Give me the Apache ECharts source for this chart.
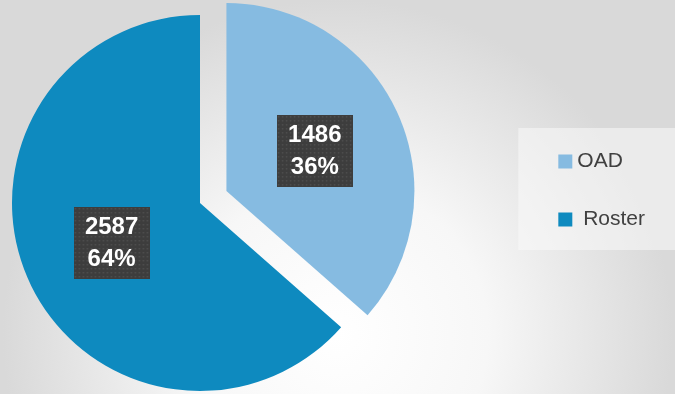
<!DOCTYPE html>
<html>
<head>
<meta charset="utf-8">
<script src="https://cdn.jsdelivr.net/npm/echarts@6/dist/echarts.min.js"></script>
<style>
  html, body { margin: 0; padding: 0; }
  #main { width: 675px; height: 394px; }
</style>
</head>
<body>
<div id="main"></div>
<script>
var names = ['OAD', 'Roster'];
var values = [1486, 2587];
var percents = ['36%', '64%'];
var colors = ['#86bbe1', '#0e8abf'];

// dotted dark tile for the label boxes
function dotted(w, h) {
    var c = document.createElement('canvas');
    c.width = w; c.height = h;
    var ctx = c.getContext('2d');
    ctx.fillStyle = '#3d3d3d';
    ctx.fillRect(0, 0, w, h);
    ctx.fillStyle = '#515151';
    for (var y = 1; y < h; y += 4) {
        for (var x = 1; x < w; x += 4) {
            ctx.fillRect(x, y, 1.5, 1.5);
        }
    }
    return c;
}
var tile = dotted(76, 72);

var data = names.map(function (n, i) {
    return {
        name: n,
        value: values[i],
        selected: i === 0,
        itemStyle: { color: colors[i] }
    };
});

var option = {
    backgroundColor: {
        type: 'radial', x: 0.5, y: 0.85, r: 0.85,
        colorStops: [
            { offset: 0, color: '#ffffff' },
            { offset: 0.45, color: '#f7f7f7' },
            { offset: 1, color: '#d9d9d9' }
        ]
    },
    animation: false,
    legend: {
        orient: 'vertical',
        right: 0,
        top: 128,
        padding: [23, 30, 20, 40],
        backgroundColor: 'rgba(250,250,250,0.55)',
        itemWidth: 14,
        itemHeight: 14,
        itemGap: 37,
        icon: 'rect',
        data: names,
        formatter: function (n) { return n === 'Roster' ? ' ' + n : n; },
        textStyle: {
            color: '#404040',
            fontSize: 21,
            fontFamily: 'Liberation Sans, Arial, sans-serif'
        }
    },
    series: [{
        type: 'pie',
        center: [200, 203],
        radius: [0, 188],
        startAngle: 90,
        selectedMode: 'single',
        selectedOffset: 29,
        select: { itemStyle: {} },
        label: {
            show: true,
            position: 'inside',
            formatter: function (p) {
                return p.value + '\n' + percents[p.dataIndex];
            },
            color: '#fff',
            fontSize: 24,
            fontWeight: 'bold',
            fontFamily: 'Liberation Sans, Arial, sans-serif',
            lineHeight: 32,
            width: 56,
            height: 64,
            overflow: 'none',
            align: 'center',
            padding: [4, 10],
            backgroundColor: { image: tile },
            shadowColor: 'rgba(0,0,0,0.45)',
            shadowBlur: 6,
            shadowOffsetX: 3,
            shadowOffsetY: 3
        },
        labelLine: { show: false },
        emphasis: { disabled: true },
        data: data
    }]
};

var myChart = echarts.init(document.getElementById('main'));
myChart.setOption(option);
</script>
</body>
</html>
